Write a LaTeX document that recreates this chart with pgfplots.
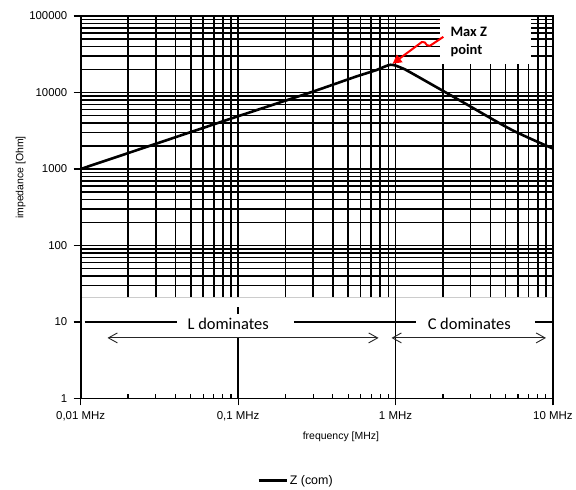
\documentclass[border=0pt]{standalone}
\usepackage{fontspec}
\setmainfont{Liberation Sans}
\newfontfamily\calfont{Carlito}
\usepackage{pgfplots}
\pgfplotsset{compat=1.18}
\usetikzlibrary{arrows.meta}
\pgfdeclarelayer{whitebox}
\pgfplotsset{
  layers/mylayers/.define layer set={
    axis background,axis grid,whitebox,axis ticks,axis lines,axis tick labels,pre main,main,axis descriptions,axis foreground
  }{
    grid style={/pgfplots/on layer=axis grid},
    tick style={/pgfplots/on layer=axis ticks},
    axis line style={/pgfplots/on layer=axis lines},
    label style={/pgfplots/on layer=axis descriptions},
    legend style={/pgfplots/on layer=axis descriptions},
    title style={/pgfplots/on layer=axis descriptions},
    colorbar style={/pgfplots/on layer=axis descriptions},
    ticklabel style={/pgfplots/on layer=axis tick labels},
    axis background@ style={/pgfplots/on layer=axis background},
    3d box foreground style={/pgfplots/on layer=axis foreground},
  },
}
\begin{document}
\begin{tikzpicture}
\begin{loglogaxis}[
  set layers=mylayers,
  scale only axis,
  width=474bp, height=384bp,
  xmin=0.01, xmax=10, ymin=1, ymax=100000,
  xtick={0.01,0.1,1,10},
  xticklabels={{0,01 MHz},{0,1 MHz},{1 MHz},{10 MHz}},
  ytick={1,10,100,1000,10000,100000},
  yticklabels={1,10,100,1000,10000,100000},
  tick pos=left,
  tick align=outside,
  major tick length=7bp,
  xminorticks=false,
  yminorticks=false,
  xminorgrids=true,
  yminorgrids=true,
  extra x ticks={0.02,0.03,0.04,0.05,0.06,0.07,0.08,0.09,0.2,0.3,0.4,0.5,0.6,0.7,0.8,0.9,2,3,4,5,6,7,8,9},
  extra x tick labels={},
  extra x tick style={tick align=inside, major tick length=5bp, xmajorgrids=false, xminorgrids=false},
  tick style={black, line width=1.2bp},
  grid=both,
  major grid style={black, line width=1.6bp},
  minor grid style={black, line width=1.6bp},
  axis line style={black, line width=1.6bp},
  xticklabel style={font=\fontsize{11.5bp}{13bp}\selectfont, yshift=-3bp},
  yticklabel style={font=\fontsize{11.4bp}{13bp}\selectfont, xshift=-3bp},
  xlabel={frequency [MHz]},
  ylabel={impedance [Ohm]},
  xlabel style={font=\fontsize{10.5bp}{12bp}\selectfont, at={(axis description cs:0.551,-0.1)}, anchor=center},
  ylabel style={font=\fontsize{10.5bp}{12bp}\selectfont, at={(axis description cs:-0.127,0.578)}, anchor=center},
  legend style={draw=none, fill=none, at={(0.456,-0.214)}, anchor=center, font=\fontsize{12.5bp}{14bp}\selectfont},
  legend image code/.code={\draw[black, line width=2.5bp] (0bp,0bp) -- (28bp,0bp);},
]
\addplot[black, line width=2.6bp, smooth, tension=0.5] coordinates {
  (0.01,1000) (0.0316,2210) (0.1,4890) (0.3,10300) (0.55,15900)
  (0.75,19500) (0.93,23000) (1.1,20800) (1.26,18000) (2.62,7660)
  (5.42,3280) (10,1850)
};
\addlegendentry{Z (com)}
\begin{pgfonlayer}{whitebox}
  \fill[white] (axis cs:0.01,1) rectangle (axis cs:10,21.3);
  \draw[gray!40, line width=0.6bp] (axis cs:0.01,21.3) -- (axis cs:10,21.3);
  \draw[black, line width=1.6bp] (axis cs:1,1) -- (axis cs:1,21.3);
  \draw[black, line width=1.6bp] (axis cs:0.1,1) -- (axis cs:0.1,6.2);
  \draw[black, line width=1.6bp] (axis cs:0.1,12.8) -- (axis cs:0.1,15.8);
  \draw[black, line width=1.6bp] (axis cs:0.0106,10) -- (axis cs:0.0411,10);
  \draw[black, line width=1.6bp] (axis cs:0.226,10) -- (axis cs:1.358,10);
  \draw[black, line width=1.6bp] (axis cs:7.69,10) -- (axis cs:9.93,10);
  \node[font=\calfont\fontsize{16.5bp}{18bp}\selectfont, inner sep=0pt] at (axis cs:0.0865,9.4) {L dominates};
  \node[font=\calfont\fontsize{16.5bp}{18bp}\selectfont, inner sep=0pt] at (axis cs:2.94,9.4) {C dominates};
  \draw[black!85, line width=0.9bp, {Straight Barb[length=9bp,width=10bp]}-{Straight Barb[length=9bp,width=10bp]}] (axis cs:0.0148,6.2) -- (axis cs:0.78,6.2);
  \draw[black!85, line width=0.9bp, {Straight Barb[length=9bp,width=10bp]}-{Straight Barb[length=9bp,width=10bp]}] (axis cs:0.943,6.2) -- (axis cs:9.03,6.2);
\end{pgfonlayer}
\end{loglogaxis}
\path (-81bp,-91bp) rectangle (495bp,400bp);
\begin{scope}[x=1bp,y=1bp]
  \fill[white] (361,336) rectangle (452,383);
  \node[font=\calfont\bfseries\fontsize{14.5bp}{18bp}\selectfont, anchor=north west, align=left, inner sep=0pt] at (371,373) {Max Z\\point};
  \draw[red, line width=2bp, rounded corners=2bp, -{Triangle[length=9bp,width=9bp]}] (364,363) -- (349,353) -- (344,359) -- (313,336);
\end{scope}
\end{tikzpicture}
\end{document}
